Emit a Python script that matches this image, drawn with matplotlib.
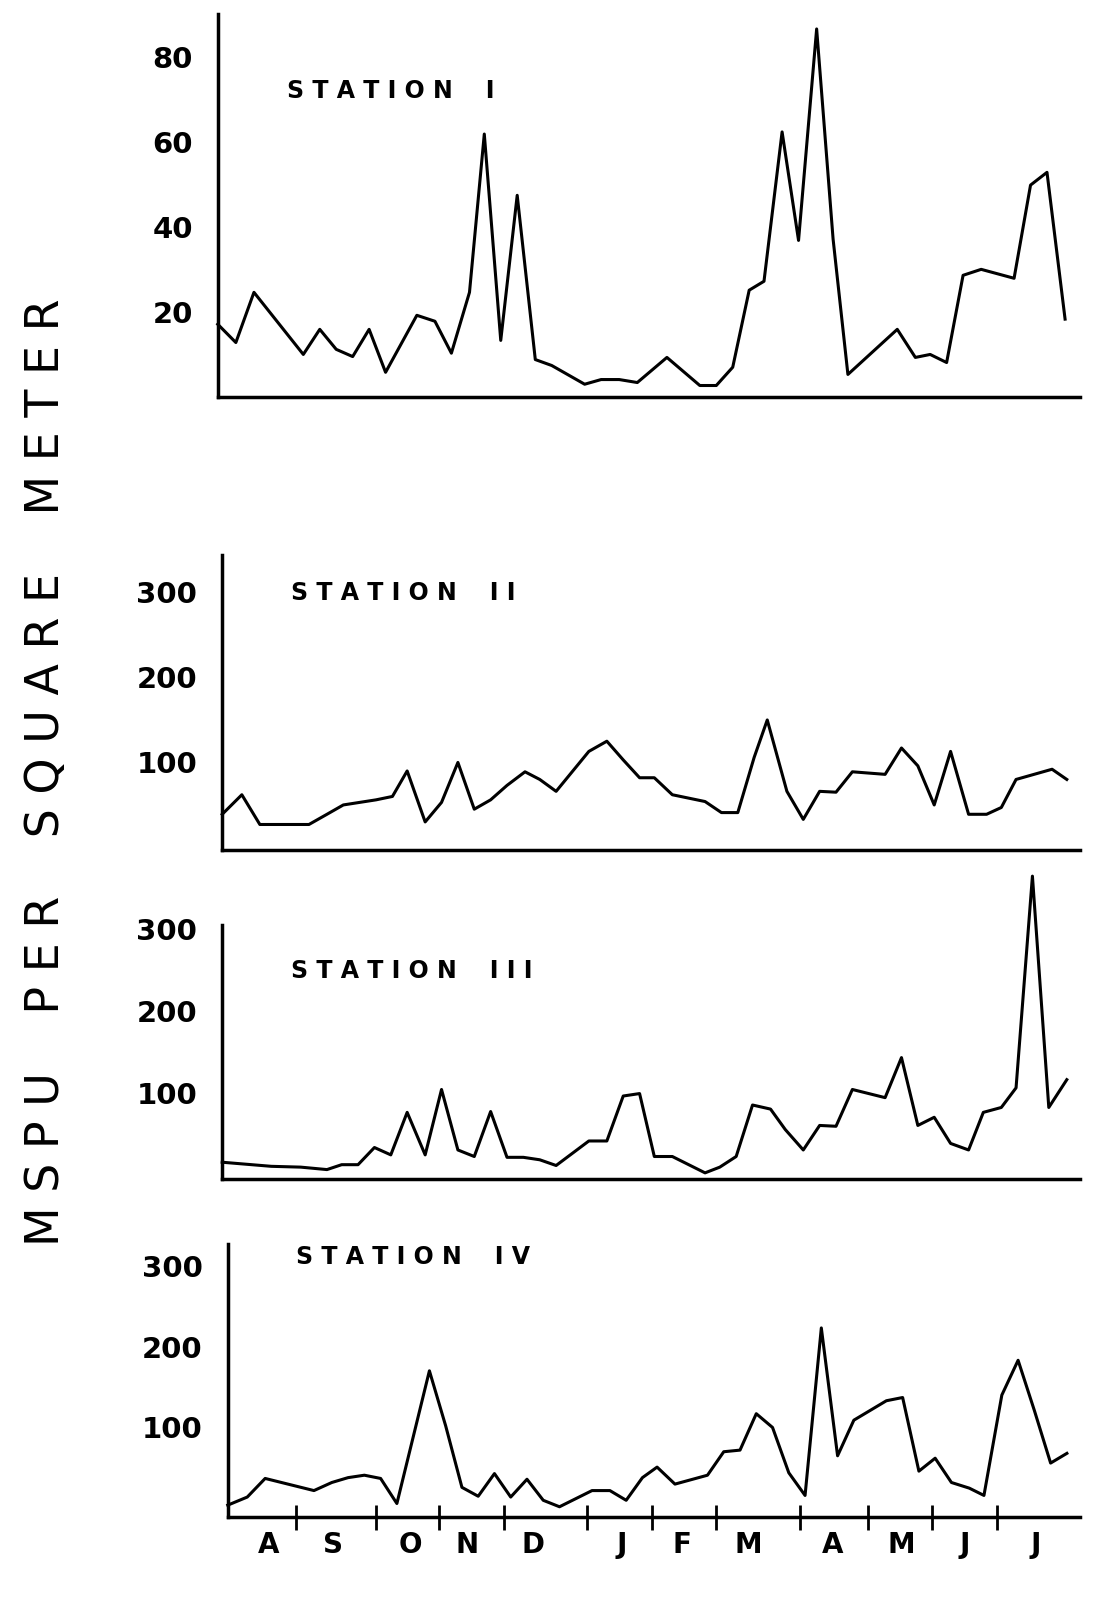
import matplotlib
matplotlib.use('Agg')
import matplotlib.pyplot as plt

# x positions in weeks from start of August
x1 = [0, 1.1, 2.2, 5.2, 6.2, 7.2, 8.2, 9.2, 10.2, 12.1, 13.2, 14.2, 15.3, 16.2, 17.2, 18.2, 19.3, 20.3,
      22.3, 23.3, 24.4, 25.5, 27.3, 29.3, 30.3, 31.3, 32.3, 33.2, 34.3, 35.3, 36.4, 37.4, 38.3, 41.3,
      42.4, 43.3, 44.3, 45.3, 46.4, 48.4, 49.4, 50.4, 51.5]
y1 = [17.2, 12.9, 24.7, 10.1, 16, 11.3, 9.6, 16, 5.9, 19.3, 17.9, 10.4, 24.7, 61.9, 13.4, 47.5, 8.9, 7.5,
      3.1, 4.2, 4.2, 3.5, 9.4, 2.8, 2.8, 7.1, 25.2, 27.3, 62.4, 36.9, 86.6, 37.2, 5.4, 16,
      9.4, 10.1, 8.2, 28.7, 30.1, 28, 49.9, 52.9, 18.4]

x2 = [0, 1.2, 2.3, 5.3, 6.4, 7.4, 9.4, 10.4, 11.3, 12.4, 13.4, 14.4, 15.4, 16.4, 17.4, 18.5, 19.4, 20.4,
      22.4, 23.5, 24.5, 25.5, 26.4, 27.5, 29.5, 30.5, 31.5, 32.5, 33.3, 34.5, 35.5, 36.5, 37.5, 38.5,
      40.5, 41.5, 42.5, 43.5, 44.5, 45.6, 46.7, 47.6, 48.5, 50.7, 51.6]
y2 = [38, 61, 26, 26, 38, 49, 55, 59, 89, 29, 52, 99, 44, 55, 72, 88, 79, 65,
      112, 124, 102, 81, 81, 61, 53, 40, 40, 105, 149, 65, 32, 65, 64, 88,
      85, 116, 95, 49, 112, 38, 38, 46, 79, 91, 79]

x3 = [0, 3.0, 4.8, 6.4, 7.3, 8.3, 9.3, 10.3, 11.3, 12.4, 13.4, 14.4, 15.4, 16.4, 17.4, 18.4, 19.4, 20.4,
      22.4, 23.5, 24.5, 25.5, 26.4, 27.5, 29.5, 30.4, 31.4, 32.4, 33.5, 34.4, 35.5, 36.5, 37.5, 38.5,
      39.5, 40.5, 41.5, 42.5, 43.5, 44.5, 45.6, 46.5, 47.6, 48.5, 49.5, 50.5, 51.6]
y3 = [15, 10, 9, 6, 12, 12, 33, 24, 76, 24, 104, 30, 22, 77, 21, 21, 18, 11,
      41, 41, 96, 99, 22, 22, 2, 9, 22, 85, 80, 55, 30, 60, 59, 104,
      99, 94, 143, 60, 70, 38, 30, 76, 82, 106, 365, 82, 116]

x4 = [0, 1.2, 2.3, 5.3, 6.4, 7.4, 8.4, 9.4, 10.4, 12.4, 13.4, 14.4, 15.4, 16.4, 17.4, 18.4, 19.4, 20.4,
      22.4, 23.5, 24.5, 25.5, 26.4, 27.5, 29.5, 30.5, 31.5, 32.5, 33.5, 34.5, 35.5, 36.5, 37.5, 38.5,
      39.5, 40.5, 41.5, 42.5, 43.5, 44.5, 45.6, 46.5, 47.6, 48.6, 49.6, 50.6, 51.6]
y4 = [4, 14, 37, 22, 32, 38, 41, 37, 6, 170, 102, 26, 15, 43, 14, 36, 10, 2,
      22, 22, 10, 38, 51, 30, 41, 70, 72, 117, 100, 44, 16, 223, 65, 109,
      121, 133, 137, 46, 62, 32, 25, 16, 140, 183, 121, 56, 68]

month_ticks = [4.2, 9.1, 13.0, 17.0, 22.1, 26.1, 30.0, 35.2, 39.4, 43.3, 47.3]
month_pos = [2.5, 6.5, 11.2, 14.7, 18.8, 24.2, 27.9, 32.0, 37.2, 41.4, 45.3, 49.7]
month_labels = ['A', 'S', 'O', 'N', 'D', 'J', 'F', 'M', 'A', 'M', 'J', 'J']

panels = [
    (x1, y1, 'S T A T I O N    I', [20, 40, 60, 80], (0, 90), [0.196, 0.753, 0.776, 0.238], 0.80),
    (x2, y2, 'S T A T I O N    I I', [100, 200, 300], (-3.5, 343), [0.200, 0.472, 0.772, 0.183], 0.87),
    (x3, y3, 'S T A T I O N    I I I', [100, 200, 300], (-6, 305), [0.200, 0.267, 0.772, 0.158], 0.82),
    (x4, y4, 'S T A T I O N    I V', [100, 200, 300], (-11, 327), [0.205, 0.057, 0.767, 0.170], 0.95),
]

fig = plt.figure(figsize=(11.11, 16.09), dpi=100)
axes = []
for x, y, title, yt, ylim, rect, ty in panels:
    ax = fig.add_axes(rect)
    ax.plot(x, y, color='black', lw=2.2, clip_on=False)
    ax.set_xlim(0, 52.4)
    ax.set_ylim(*ylim)
    ax.set_yticks(yt)
    ax.set_yticklabels([str(v) for v in yt], fontsize=21, fontweight='bold')
    ax.tick_params(axis='y', length=0, pad=18)
    ax.set_xticks([])
    for s in ['top', 'right']:
        ax.spines[s].set_visible(False)
    ax.spines['left'].set_linewidth(2.5)
    ax.spines['bottom'].set_linewidth(2.5)
    ax.text(0.08, ty, title, transform=ax.transAxes, fontsize=17, fontweight='bold', va='center')
    axes.append(ax)

ax = axes[-1]
ax.set_xticks(month_ticks)
ax.set_xticklabels([])
ax.tick_params(axis='x', direction='inout', length=18, width=2)
for p, l in zip(month_pos, month_labels):
    ax.text(p, -0.1, l, transform=ax.get_xaxis_transform(), ha='center', va='center',
            fontsize=20, fontweight='bold')

fig.text(0.042, 0.52, 'M S P U    P E R    S Q U A R E    M E T E R', rotation=90,
         ha='center', va='center', fontsize=33)

fig.savefig('out.png', dpi=100)
